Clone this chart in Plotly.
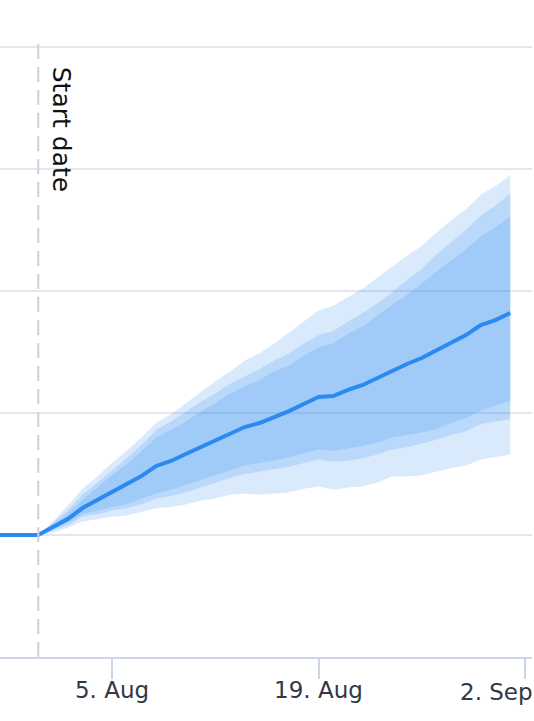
import pandas as pd
import plotly.graph_objects as go

# dates of the forecast (one point per day from the start date)
start_date = "2020-07-31"
dates = pd.date_range(start_date, periods=33, freq="D")
# flat history before the start date
hist_dates = pd.date_range("2020-07-26", periods=6, freq="D")
hist_values = [0, 0, 0, 0, 0, 0]

median = [0, 6.6, 13.1, 22.1, 28.7, 35.2, 41.0, 48.4, 56.6, 60.7, 66.4, 72.1, 77.9,
          83.6, 88.5, 91.8, 96.7, 101.6, 107.4, 113.1, 113.9, 118.9, 123.0, 128.7,
          135.2, 140.2, 145.1, 151.6, 158.2, 163.9, 172.1, 176.2, 182.0]

outer_upper = [0, 11, 24, 38, 48, 59, 69, 80, 92, 99, 108, 117, 126, 134, 143, 149, 157,
               166, 175, 184, 188, 195, 202, 211, 220, 229, 237, 248, 258, 267, 279, 286, 295]
middle_upper = [0, 10, 20, 33, 43, 53, 63, 74, 86, 93, 101, 109, 116, 124, 130, 136, 143,
                149, 157, 164, 167, 175, 182, 190, 199, 209, 218, 230, 240, 250, 262, 270, 280]
inner_upper = [0, 9, 17, 29, 39, 49, 58, 69, 80, 86, 93, 101, 108, 116, 122, 127, 134,
               139, 147, 154, 157, 165, 171, 180, 189, 197, 206, 216, 225, 234, 245, 252, 261]
inner_lower = [0, 5, 10, 17, 20, 23, 25, 30, 34, 37, 41, 45, 49, 53, 57, 59, 61,
               64, 67, 70, 69, 71, 73, 76, 80, 82, 84, 87, 92, 96, 102, 106, 110]
middle_lower = [0, 4, 8, 15, 17, 20, 22, 25, 30, 32, 35, 39, 43, 47, 50, 52, 54,
                56, 59, 62, 60, 61, 63, 66, 70, 72, 75, 78, 82, 85, 91, 93, 95]
outer_lower = [0, 2, 6, 11, 13, 15, 16, 19, 22, 23, 25, 28, 30, 33, 34, 33, 34,
               35, 38, 40, 37, 39, 40, 43, 48, 48, 49, 52, 55, 57, 62, 64, 66]

tick_vals = ["2020-08-05", "2020-08-19", "2020-09-02"]
tick_text = ["5. Aug", "19. Aug", "2. Sep"]

band_fill = "rgba(44,140,240,0.18)"
line_color = "#2b8af0"
label_font = dict(family="DejaVu Sans", size=23, color="#333844")

fig = go.Figure()

# three overlapping bands: outer, middle, inner
for lo, hi in [(outer_lower, outer_upper), (middle_lower, middle_upper), (inner_lower, inner_upper)]:
    fig.add_trace(go.Scatter(x=dates, y=lo, mode="lines", line=dict(width=0),
                             hoverinfo="skip", showlegend=False))
    fig.add_trace(go.Scatter(x=dates, y=hi, mode="lines", line=dict(width=0),
                             fill="tonexty", fillcolor=band_fill,
                             hoverinfo="skip", showlegend=False))

fig.add_trace(go.Scatter(x=list(hist_dates) + list(dates), y=hist_values + median,
                         mode="lines", line=dict(color=line_color, width=4),
                         showlegend=False))

# start date marker
fig.add_shape(type="line", xref="x", yref="paper", x0=start_date, x1=start_date, y0=0, y1=1,
              line=dict(color="#ccd0dd", width=2, dash="15px,8px"))
fig.add_annotation(x=start_date, y=1, xref="x", yref="paper", text="Start date",
                   textangle=90, showarrow=False, xanchor="left", yanchor="top",
                   xshift=7, yshift=-21, font=dict(family="DejaVu Sans", size=25, color="#111111"))

# last label is pushed left to stay inside the chart
fig.add_annotation(x=1, y=0, xref="paper", yref="paper", text=tick_text[-1],
                   showarrow=False, xanchor="right", yanchor="top", yshift=-20, xshift=3,
                   font=label_font)

fig.update_xaxes(range=["2020-07-28 09:46", "2020-09-02 11:24"],
                 tickvals=tick_vals, ticktext=tick_text[:-1] + [""],
                 showgrid=False, showline=True, linecolor="#ccd6eb", linewidth=2,
                 ticks="outside", ticklen=20, tickwidth=2, tickcolor="#ccd6eb",
                 ticklabelstandoff=-9, tickfont=label_font)
fig.update_yaxes(range=[-100, 402.5], dtick=100, showticklabels=False,
                 gridcolor="#e6e6ec", gridwidth=2, zeroline=False)

fig.update_layout(width=534, height=721, plot_bgcolor="white", paper_bgcolor="white",
                  margin=dict(l=0, r=2, t=44, b=64))

fig.write_html("out.html", config={"displayModeBar": False},
               post_script="document.body.style.margin='0px';")
